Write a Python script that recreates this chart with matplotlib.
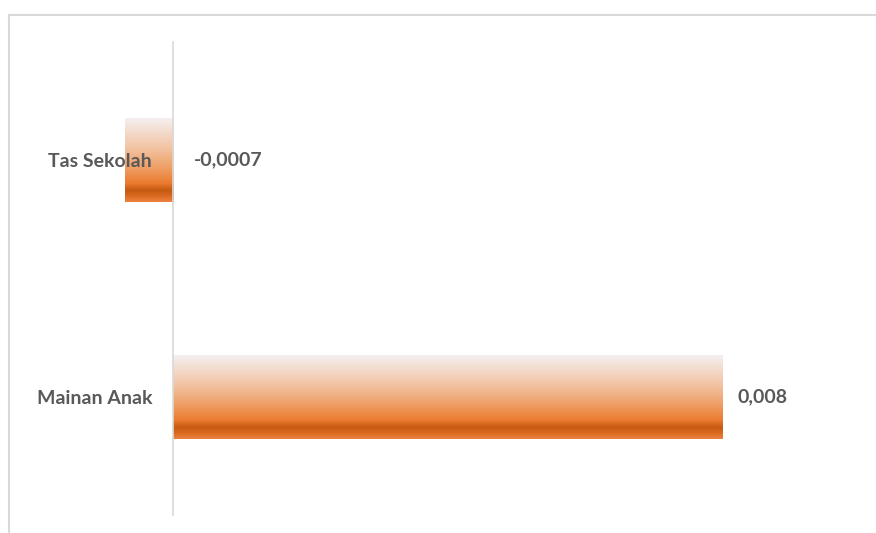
import matplotlib
matplotlib.use("Agg")
import matplotlib.pyplot as plt
import numpy as np
from matplotlib.colors import LinearSegmentedColormap
from matplotlib.lines import Line2D

# data
categories = ['Mainan Anak', 'Tas Sekolah']
values = [0.008, -0.0007]
value_labels = ['0,008', '-0,0007']

text_color = '#595959'
grid_color = '#d9d9d9'

# vertical gradient used by the bars (top -> bottom)
grad = LinearSegmentedColormap.from_list('bar_grad', [
    (0.00, '#f5f0f0'),
    (0.35, '#f2c4a4'),
    (0.60, '#ef9d63'),
    (0.78, '#ea7a2e'),
    (0.86, '#c55a11'),
    (0.93, '#d96a20'),
    (1.00, '#ee8242'),
])

plt.rcParams['font.family'] = ['Lato', 'DejaVu Sans']

fig = plt.figure(figsize=(8.76, 5.33), dpi=100)
W, H = 876, 533
ax = fig.add_axes([100 / W, (H - 515) / H, 760 / W, 473 / H])

bar_h = 0.355
y = np.arange(len(categories))
ax.set_xlim(-0.00106, 0.01)
ax.set_ylim(-0.5, len(categories) - 0.5)

gradient = np.linspace(0, 1, 256).reshape(-1, 1)
for yi, v in zip(y, values):
    x0, x1 = min(0, v), max(0, v)
    ax.imshow(gradient, cmap=grad, aspect='auto', interpolation='bilinear',
              extent=(x0, x1, yi - bar_h / 2, yi + bar_h / 2), origin='upper', zorder=1)

# invisible bars keep the patches on the axes
ax.barh(y, values, height=bar_h, color='none', edgecolor='none')

for yi, v, lab in zip(y, values, value_labels):
    off = 10.5 if v > 0 else 15
    ax.annotate(lab, xy=(max(v, 0), yi), xytext=(off, 0), textcoords='offset points',
                ha='left', va='center', fontsize=14, fontweight='bold', color=text_color)

for s in ['top', 'right', 'bottom']:
    ax.spines[s].set_visible(False)
ax.spines['left'].set_position(('data', 0))
ax.spines['left'].set_color(grid_color)
ax.spines['left'].set_linewidth(1.2)

# tick labels after moving the spine (moving it resets the ticks)
ax.set_xticks([])
ax.set_yticks(y)
ax.set_yticklabels(categories, fontsize=14, fontweight='bold', color=text_color)
ax.tick_params(axis='y', length=0, pad=15)
ax.set_ylim(-0.5, len(categories) - 0.5)

# chart frame (top and left edges)
fig.add_artist(Line2D([9 / W, 1], [1 - 15 / H, 1 - 15 / H], color=grid_color, lw=1.5))
fig.add_artist(Line2D([9 / W, 9 / W], [0, 1 - 15 / H], color=grid_color, lw=1.5))

fig.savefig('out.png', dpi=100)
